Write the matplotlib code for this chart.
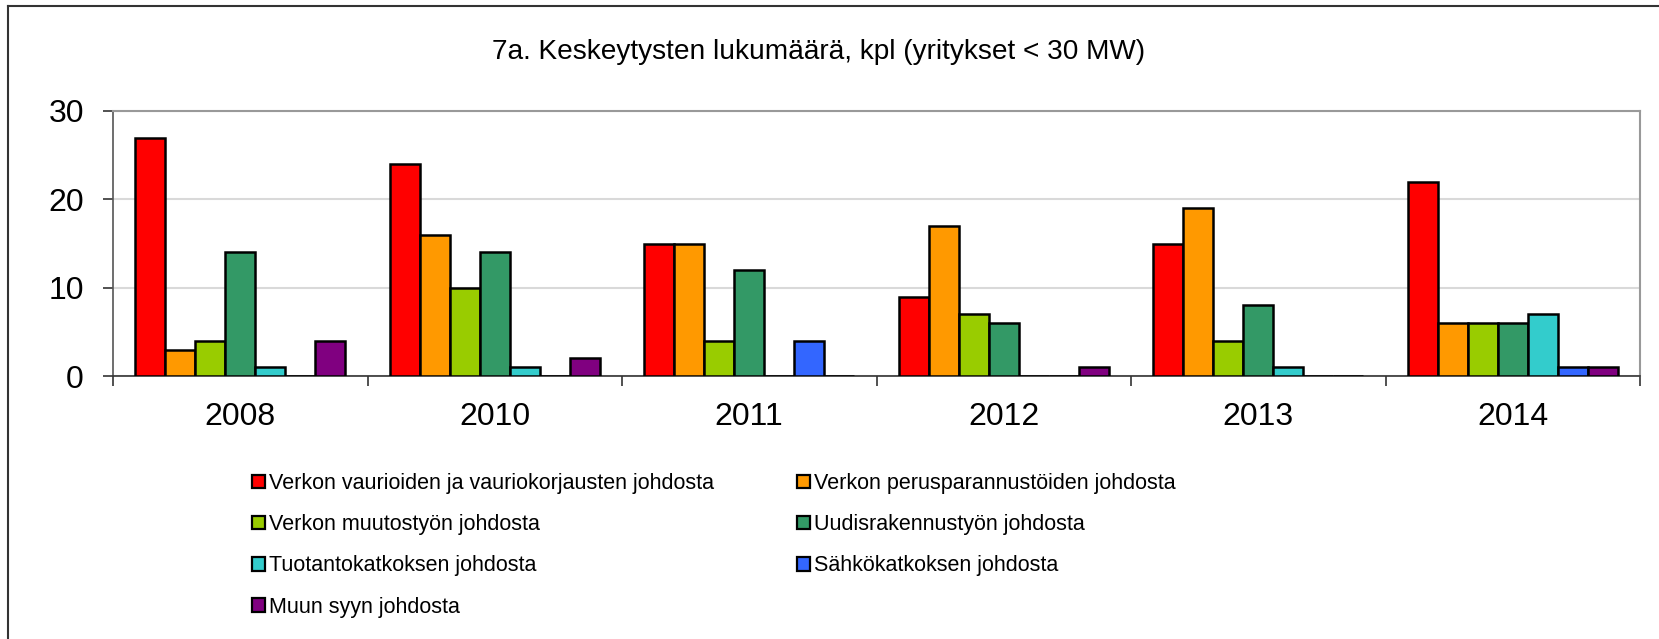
import matplotlib
matplotlib.use("Agg")
import matplotlib.pyplot as plt
import numpy as np
from matplotlib.lines import Line2D

plt.rcParams['font.family'] = ['Liberation Sans', 'DejaVu Sans']

years = ["2008", "2010", "2011", "2012", "2013", "2014"]
series_names = [
    "Verkon vaurioiden ja vauriokorjausten johdosta",
    "Verkon perusparannustöiden johdosta",
    "Verkon muutostyön johdosta",
    "Uudisrakennustyön johdosta",
    "Tuotantokatkoksen johdosta",
    "Sähkökatkoksen johdosta",
    "Muun syyn johdosta",
]
vaurio = [27, 24, 15, 9, 15, 22]
perusparannus = [3, 16, 15, 17, 19, 6]
muutostyo = [4, 10, 4, 7, 4, 6]
uudisrakennus = [14, 14, 12, 6, 8, 6]
tuotantokatko = [1, 1, 0, 0, 1, 7]
sahkokatko = [0, 0, 4, 0, 0, 1]
muu = [4, 2, 0, 1, 0, 1]
series_values = [vaurio, perusparannus, muutostyo, uudisrakennus,
                 tuotantokatko, sahkokatko, muu]
colors = ["#FF0000", "#FF9900", "#99CC00", "#339966", "#33CCCC", "#3366FF", "#800080"]
title = "7a. Keskeytysten lukumäärä, kpl (yritykset < 30 MW)"

W, H = 1659, 639
fig = plt.figure(figsize=(W / 100, H / 100), dpi=100)
fig.patch.set_facecolor("white")

# outer chart frame (left and top edges visible)
fig.add_artist(Line2D([8 / W, 8 / W], [0, 1 - 6 / H], transform=fig.transFigure,
                      color="#333333", lw=1.5))
fig.add_artist(Line2D([8 / W, 1], [1 - 6 / H, 1 - 6 / H], transform=fig.transFigure,
                      color="#333333", lw=1.5))

ax = fig.add_axes([113 / W, 1 - 376 / H, (1640 - 113) / W, (376 - 111) / H])

n = len(series_values)
x = np.arange(len(years))
w = 30 / 254.5
handles = []
for j, (vals, c, name) in enumerate(zip(series_values, colors, series_names)):
    b = ax.bar(x + (j - (n - 1) / 2) * w, vals, width=w, color=c,
               edgecolor="black", linewidth=1.8, label=name, zorder=3)
    handles.append(b)

ax.set_xlim(-0.5, len(years) - 0.5)
ax.set_ylim(0, 30)
ax.set_yticks([0, 10, 20, 30])
ax.yaxis.grid(True, color="#d9d9d9", lw=1.5, zorder=0)
ax.set_axisbelow(True)

ax.set_xticks(x)
ax.set_xticklabels(years, fontsize=23)
ax.tick_params(axis="x", which="major", length=0, pad=19)
ax.set_xticks(np.arange(-0.5, len(years) + 0.5, 1), minor=True)
ax.tick_params(axis="x", which="minor", length=7, width=1.2, color="#333333", direction="out")
ax.tick_params(axis="y", labelsize=23, length=7, width=1.2, color="#333333", pad=14)

for s in ["top", "right"]:
    ax.spines[s].set_color("#999999")
    ax.spines[s].set_linewidth(1.5)
ax.spines["left"].set_color("#555555")
ax.spines["left"].set_linewidth(1.2)
ax.spines["bottom"].set_color("#333333")
ax.spines["bottom"].set_linewidth(1.2)

fig.text(819 / W, 1 - 52 / H, title, fontsize=20.2, ha="center", va="center")

# legend in Excel row-major order (2 columns)
order = [0, 2, 4, 6, 1, 3, 5]
leg = fig.legend([handles[i] for i in order], [series_names[i] for i in order],
                 ncol=2, loc="upper left", bbox_to_anchor=(252 / W, 1 - 473 / H),
                 frameon=False, fontsize=15.5, handlelength=0.6, handleheight=0.6,
                 handletextpad=0.18, columnspacing=3.88, labelspacing=0.94,
                 borderpad=0, borderaxespad=0)
for p in leg.get_patches():
    p.set_linewidth(1.6)

fig.savefig("out.png", dpi=100, facecolor="white")
